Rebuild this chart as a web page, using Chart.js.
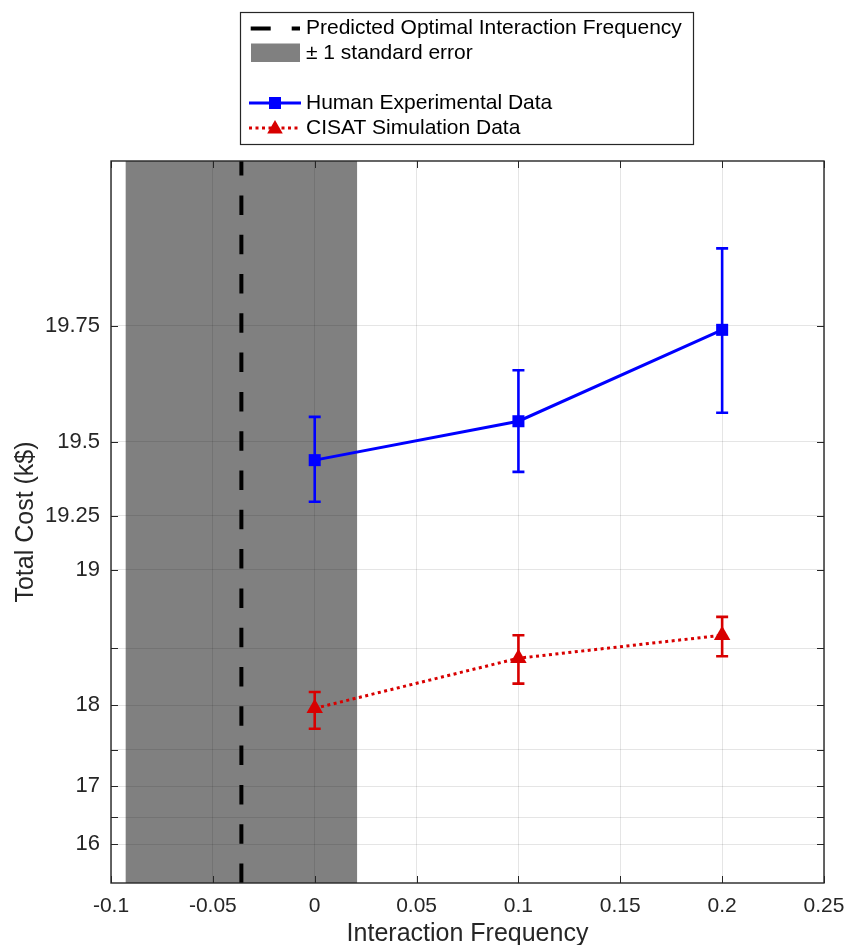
<!DOCTYPE html>
<html>
<head>
<meta charset="utf-8">
<title>Total Cost vs Interaction Frequency</title>
<script src="https://cdn.jsdelivr.net/npm/chart.js@4.4.1/dist/chart.umd.min.js"></script>
<style>
  html, body { margin: 0; padding: 0; background: #ffffff; }
  #wrap { width: 849px; height: 945px; }
</style>
</head>
<body>
<div id="wrap"><canvas id="chart" width="849" height="945"></canvas></div>
<script>
// ---- data ----
const frequencies = [0, 0.1, 0.2];

const humanCost = [19.446, 19.555, 19.743];
const humanLow  = [19.304, 19.409, 19.576];
const humanHigh = [19.566, 19.670, 19.853];

const cisatCost = [17.967, 18.423, 18.598];
const cisatLow  = [17.748, 18.206, 18.439];
const cisatHigh = [18.128, 18.598, 18.724];

const optimalFrequency = -0.036;
const optimalStdErr = 0.0568;

const xTickValues = [-0.1, -0.05, 0, 0.05, 0.1, 0.15, 0.2, 0.25];
const xTickLabels = ['-0.1', '-0.05', '0', '0.05', '0.1', '0.15', '0.2', '0.25'];
const yTickValues = [16, 16.5, 17, 17.5, 18, 18.5, 19, 19.25, 19.5, 19.75];
const yTickLabels = ['16', '', '17', '', '18', '', '19', '19.25', '19.5', '19.75'];

const seriesNames = [
  'Predicted Optimal Interaction Frequency',
  '\u00B1 1 standard error',
  'Human Experimental Data',
  'CISAT Simulation Data'
];

// ---- axis limits ----
const X_MIN = -0.1, X_MAX = 0.25;
const Y_MIN = 15.151, Y_MAX = 19.9314;

// ---- styles ----
const FONT = '"Liberation Sans", Arial, Helvetica, sans-serif';
const AXIS_COLOR = '#262626';
const BLUE = '#0000ff';
const RED = '#d80000';
const SHADE = '#808080';

// Cost axis: compressed logarithmically toward an upper ceiling, so the
// values near 20 k$ are spread out and the lower values squeezed together.
const COST_CEILING = 20.08;
const costT = v => -Math.log(COST_CEILING - v);
const costInv = t => COST_CEILING - Math.exp(-t);

class CostScale extends Chart.LinearScale {
  static id = 'cost';
  static defaults = Chart.LinearScale.defaults;
  buildTicks() {
    return yTickValues.map(v => ({ value: v }));
  }
  configure() {
    super.configure();
    this._tMin = costT(this.min);
    this._tMax = costT(this.max);
  }
  getPixelForValue(value) {
    if (value === null || value === undefined || isNaN(value)) return NaN;
    return this.getPixelForDecimal((costT(value) - this._tMin) / (this._tMax - this._tMin));
  }
  getValueForPixel(pixel) {
    const d = this.getDecimalForPixel(pixel);
    return costInv(this._tMin + d * (this._tMax - this._tMin));
  }
}
Chart.register(CostScale);

// shaded ± standard-error band, painted under the grid
const bandPlugin = {
  id: 'stdErrBand',
  beforeDraw(chart) {
    const { ctx, chartArea: a, scales: { x } } = chart;
    const l = x.getPixelForValue(optimalFrequency - optimalStdErr);
    const r = x.getPixelForValue(optimalFrequency + optimalStdErr);
    ctx.save();
    ctx.fillStyle = SHADE;
    ctx.fillRect(l, a.top, r - l, a.bottom - a.top);
    ctx.restore();
  }
};

// vertical error bars with caps
const errorBarPlugin = {
  id: 'errorBars',
  afterDatasetsDraw(chart) {
    const { ctx, scales: { x, y } } = chart;
    const groups = [
      { low: humanLow, high: humanHigh, color: BLUE },
      { low: cisatLow, high: cisatHigh, color: RED }
    ];
    ctx.save();
    ctx.lineWidth = 2.6;
    ctx.lineCap = 'butt';
    groups.forEach(g => {
      ctx.strokeStyle = g.color;
      frequencies.forEach((f, i) => {
        const px = x.getPixelForValue(f);
        const top = y.getPixelForValue(g.high[i]);
        const bot = y.getPixelForValue(g.low[i]);
        ctx.beginPath();
        ctx.moveTo(px, top); ctx.lineTo(px, bot);
        ctx.moveTo(px - 6, top); ctx.lineTo(px + 6, top);
        ctx.moveTo(px - 6, bot); ctx.lineTo(px + 6, bot);
        ctx.stroke();
      });
    });
    ctx.restore();
  }
};

// box frame with inward tick marks on all four sides
const framePlugin = {
  id: 'frame',
  afterDraw(chart) {
    const { ctx, chartArea: a, scales: { x, y } } = chart;
    ctx.save();
    ctx.strokeStyle = AXIS_COLOR;
    ctx.lineWidth = 1;
    const tl = 7;
    ctx.beginPath();
    x.ticks.forEach(t => {
      const px = Math.round(x.getPixelForValue(t.value)) + 0.5;
      ctx.moveTo(px, a.bottom); ctx.lineTo(px, a.bottom - tl);
      ctx.moveTo(px, a.top); ctx.lineTo(px, a.top + tl);
    });
    y.ticks.forEach(t => {
      const py = Math.round(y.getPixelForValue(t.value)) + 0.5;
      ctx.moveTo(a.left, py); ctx.lineTo(a.left + tl, py);
      ctx.moveTo(a.right, py); ctx.lineTo(a.right - tl, py);
    });
    ctx.stroke();
    ctx.lineWidth = 1.4;
    ctx.strokeRect(a.left, a.top, a.right - a.left, a.bottom - a.top);
    ctx.restore();
  }
};

function drawSquare(ctx, cx, cy, side, color) {
  ctx.fillStyle = color;
  ctx.fillRect(cx - side / 2, cy - side / 2, side, side);
}
function drawTriangle(ctx, cx, cy, r, color) {
  ctx.fillStyle = color;
  ctx.beginPath();
  ctx.moveTo(cx, cy - r);
  ctx.lineTo(cx + r * Math.sin(2 * Math.PI / 3), cy - r * Math.cos(2 * Math.PI / 3));
  ctx.lineTo(cx + r * Math.sin(4 * Math.PI / 3), cy - r * Math.cos(4 * Math.PI / 3));
  ctx.closePath();
  ctx.fill();
}

// boxed legend above the plot
const legendPlugin = {
  id: 'boxLegend',
  afterDraw(chart) {
    const ctx = chart.ctx;
    const box = { x: 240.5, y: 12.5, w: 453, h: 132 };
    const sx0 = 250, sx1 = 301, tx = 306;
    const rows = [28.5, 53.5, 103, 128];
    ctx.save();
    ctx.fillStyle = '#ffffff';
    ctx.fillRect(box.x, box.y, box.w, box.h);
    ctx.strokeStyle = AXIS_COLOR;
    ctx.lineWidth = 1.2;
    ctx.strokeRect(box.x, box.y, box.w, box.h);

    // dashed line sample
    ctx.strokeStyle = '#000';
    ctx.lineWidth = 4;
    ctx.setLineDash([20, 21]);
    ctx.beginPath(); ctx.moveTo(sx0 + 0.7, rows[0]); ctx.lineTo(sx1 - 1, rows[0]); ctx.stroke();
    ctx.setLineDash([]);

    // band sample
    ctx.fillStyle = SHADE;
    ctx.fillRect(251, 43.5, 49, 18.5);

    // human sample
    ctx.strokeStyle = BLUE;
    ctx.lineWidth = 3;
    ctx.beginPath(); ctx.moveTo(249, rows[2]); ctx.lineTo(301, rows[2]); ctx.stroke();
    drawSquare(ctx, 275, rows[2], 12, BLUE);

    // cisat sample
    ctx.strokeStyle = RED;
    ctx.setLineDash([3, 3.5]);
    ctx.beginPath(); ctx.moveTo(249, rows[3]); ctx.lineTo(301, rows[3]); ctx.stroke();
    ctx.setLineDash([]);
    drawTriangle(ctx, 275, rows[3] + 1, 9, RED);

    ctx.fillStyle = '#000';
    ctx.font = '21px ' + FONT;
    ctx.textAlign = 'left';
    ctx.textBaseline = 'middle';
    ctx.fillText(seriesNames[0], tx, rows[0]);
    ctx.fillText(seriesNames[1], tx, rows[1]);
    ctx.fillText(seriesNames[2], tx, rows[2]);
    ctx.fillText(seriesNames[3], tx, rows[3]);
    ctx.restore();
  }
};

const toPoints = vals => frequencies.map((f, i) => ({ x: f, y: vals[i] }));

new Chart(document.getElementById('chart'), {
  type: 'line',
  data: {
    datasets: [
      {
        label: seriesNames[2],
        data: toPoints(humanCost),
        borderColor: BLUE,
        backgroundColor: BLUE,
        borderWidth: 3,
        pointStyle: 'rect',
        pointRadius: 8.5,
        pointBorderWidth: 0,
        fill: false
      },
      {
        label: seriesNames[3],
        data: toPoints(cisatCost),
        borderColor: RED,
        backgroundColor: RED,
        borderWidth: 3,
        borderDash: [3, 3.5],
        pointStyle: 'triangle',
        pointRadius: 9.5,
        pointBorderWidth: 0,
        fill: false
      },
      {
        label: seriesNames[0],
        data: [{ x: optimalFrequency, y: Y_MIN }, { x: optimalFrequency, y: Y_MAX }],
        borderColor: '#000000',
        borderWidth: 4,
        borderDash: [19.5, 19.8],
        pointRadius: 0,
        fill: false
      }
    ]
  },
  options: {
    responsive: false,
    animation: false,
    devicePixelRatio: 1,
    layout: { padding: { top: 161, right: 25, left: 0, bottom: 0 } },
    plugins: { legend: { display: false }, tooltip: { enabled: false } },
    elements: { line: { tension: 0 } },
    scales: {
      x: {
        type: 'linear',
        min: X_MIN,
        max: X_MAX,
        afterBuildTicks: s => { s.ticks = xTickValues.map(v => ({ value: v })); },
        afterFit: s => { s.height = 62; s.paddingLeft = 0; s.paddingRight = 0; },
        grid: { color: 'rgba(0,0,0,0.1)', lineWidth: 1, drawTicks: false },
        border: { display: false },
        ticks: {
          autoSkip: false,
          maxRotation: 0,
          padding: 11,
          color: AXIS_COLOR,
          font: { family: FONT, size: 21 },
          callback: (v, i) => xTickLabels[i]
        },
        title: {
          display: true,
          text: 'Interaction Frequency',
          color: AXIS_COLOR,
          font: { family: FONT, size: 25, lineHeight: 0.88 },
          padding: { top: 0, bottom: 0 }
        }
      },
      y: {
        type: 'cost',
        min: Y_MIN,
        max: Y_MAX,
        afterFit: s => { s.width = 111; s.paddingTop = 0; s.paddingBottom = 0; },
        grid: { color: 'rgba(0,0,0,0.1)', lineWidth: 1, drawTicks: false },
        border: { display: false },
        ticks: {
          autoSkip: false,
          padding: 11,
          color: AXIS_COLOR,
          font: { family: FONT, size: 22 },
          callback: (v, i) => yTickLabels[i]
        },
        title: {
          display: true,
          text: 'Total Cost (k$)',
          color: AXIS_COLOR,
          font: { family: FONT, size: 25, lineHeight: 1 },
          padding: { top: 14, bottom: 0 }
        }
      }
    }
  },
  plugins: [bandPlugin, errorBarPlugin, framePlugin, legendPlugin]
});
</script>
</body>
</html>
